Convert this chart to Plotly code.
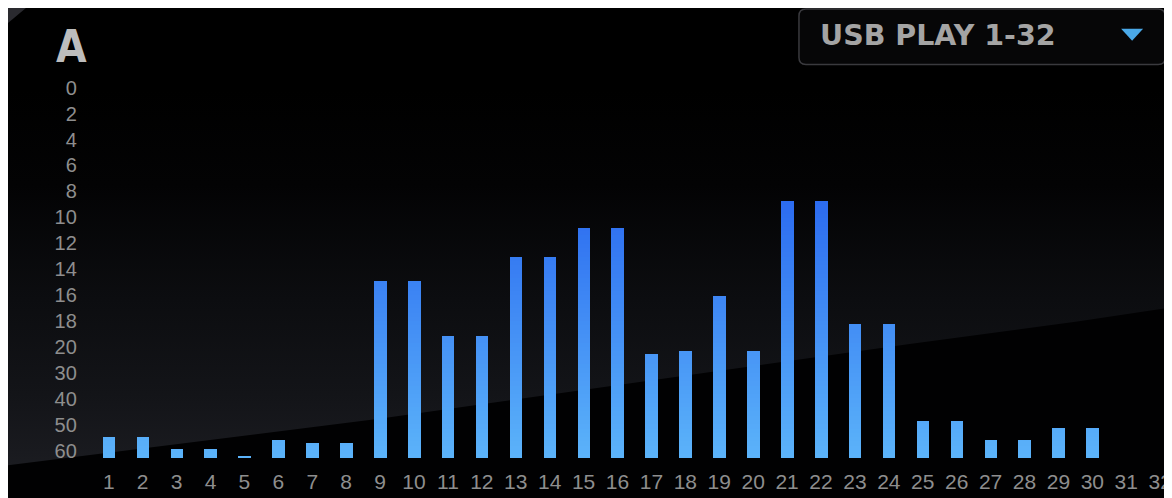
import plotly.graph_objects as go
import numpy as np

# ---------------- data ----------------
channels = [str(i) for i in range(1, 33)]
# meter reading of each channel in dB below full scale (None = no signal)
levels_db = [54.5, 54.5, 59.2, 59.2, 61.7, 55.6, 56.8, 56.8,
             14.9, 14.9, 19.1, 19.1, 13.0, 13.0, 10.8, 10.8,
             22.7, 21.4, 16.0, 21.4, 8.7, 8.7, 18.2, 18.2,
             48.5, 48.5, 55.6, 55.6, 51.0, 51.0, None, None]
scale_labels = ["0", "2", "4", "6", "8", "10", "12", "14", "16", "18",
                "20", "30", "40", "50", "60"]
scale_db = [0, 2, 4, 6, 8, 10, 12, 14, 16, 18, 20, 30, 40, 50, 60]
meter_title = "A"
source_label = "USB PLAY 1-32"


# meter scale: 2 dB per step down to 20, then 10 dB per step
def meter_pos(d):
    if d is None:
        return None
    return 14 - d / 2 if d <= 20 else 6 - d / 10


W, H = 1172, 498
OFF = 8  # page offset of the figure (body margin)
H_BASE = -0.283
H_TOP = 14.70

heights = [meter_pos(d) for d in levels_db]
tick_pos = [meter_pos(d) for d in scale_db]
xs = list(range(1, 33))

fig = go.Figure()

# ---------------- background (page-pixel hidden axes) ----------------
diag_x = [1180, 1080, 910, 380, 0]
diag_y = [309, 324, 347, 422, 470]
fig.add_trace(go.Scatter(
    x=[0, 1180] + diag_x + [0],
    y=[0, 0] + diag_y + [0],
    mode="lines", line=dict(width=0), fill="toself",
    fillgradient=dict(type="vertical",
                      colorscale=[[0, "#000000"], [0.25, "#030304"], [0.55, "#0c0d10"],
                                  [0.8, "#131418"], [1, "#1b1c21"]],
                      start=90, stop=470),
    hoverinfo="skip", showlegend=False, xaxis="x", yaxis="y"))

shapes = [
    dict(type="rect", xref="x", yref="y", x0=0, x1=1200, y0=0, y1=520,
         fillcolor="#010102", line=dict(width=0), layer="below"),
    dict(type="path", xref="x", yref="y", path="M8,8 L26,8 L8,23 Z",
         fillcolor="#2a2a2f", line=dict(width=0), layer="above"),
    # dropdown box
    dict(type="path", xref="x", yref="y",
         path="M808,9 L1161,9 Q1168,9 1168,16 L1168,58 Q1168,65 1161,65 "
              "L808,65 Q801,65 801,58 L801,16 Q801,9 808,9 Z",
         fillcolor="#060607", line=dict(color="#3a3a3e", width=1.5), layer="above"),
    dict(type="path", xref="x", yref="y", path="M1124,29 L1146,29 L1135,41 Z",
         fillcolor="#4aa9e8", line=dict(width=0), layer="above"),
]

# ---------------- bars with vertical gradient ----------------
c_bot = np.array([92, 180, 250])
c_top = np.array([44, 108, 240])
valid = [h for h in heights if h is not None]
h_max = max(valid)
steps = np.linspace(h_max, H_BASE, 60, endpoint=False)
for L in steps:
    t = (L - H_BASE) / (h_max - H_BASE)
    col = c_bot + (c_top - c_bot) * t
    color = "rgb(%d,%d,%d)" % tuple(col.round().astype(int))
    yv = [None if h is None else max(min(h, L) - H_BASE, 0) for h in heights]
    fig.add_trace(go.Bar(
        x=xs, y=yv, base=H_BASE, width=0.37,
        marker=dict(color=color, line=dict(width=0)),
        hoverinfo="skip", showlegend=False, xaxis="x2", yaxis="y2"))

tick_font = dict(family="Liberation Sans, Arial, sans-serif", size=21, color="#8e8e8e")

fig.update_layout(
    width=W, height=H,
    margin=dict(l=0, r=0, t=0, b=0),
    paper_bgcolor="#010102",
    plot_bgcolor="rgba(0,0,0,0)",
    barmode="overlay",
    bargap=0,
    showlegend=False,
    shapes=shapes,
    xaxis=dict(domain=[0, 1], range=[OFF, W + OFF], visible=False, fixedrange=True),
    yaxis=dict(domain=[0, 1], range=[H + OFF, OFF], visible=False, fixedrange=True),
    xaxis2=dict(domain=[(92 - OFF) / W, (1172 - OFF) / W], range=[0.5, 32.26], anchor="y2",
                tickmode="array", tickvals=xs, ticktext=channels,
                showgrid=False, zeroline=False, showline=False, ticks="",
                ticklabelstandoff=9, tickfont=tick_font),
    yaxis2=dict(domain=[(H - (461.7 - OFF)) / H, (H - (70 - OFF)) / H],
                range=[H_BASE, H_TOP],
                anchor="x2", tickmode="array", tickvals=tick_pos, ticktext=scale_labels,
                showgrid=False, zeroline=False, showline=False, ticks="",
                ticklabelstandoff=14, tickfont=dict(tick_font, size=20)),
    annotations=[
        dict(text="<b>" + meter_title + "</b>", xref="x", yref="y", x=72, y=47,
             showarrow=False,
             font=dict(family="DejaVu Sans Condensed, Liberation Sans Narrow, sans-serif",
                       size=44, color="#bdbdbd")),
        dict(text="<b>" + source_label + "</b>", xref="x", yref="y", x=820, y=36,
             xanchor="left", yanchor="middle", showarrow=False,
             font=dict(family="DejaVu Sans, sans-serif", size=28.5, color="#a4a4a4")),
    ],
)

fig.write_html("out.html")
